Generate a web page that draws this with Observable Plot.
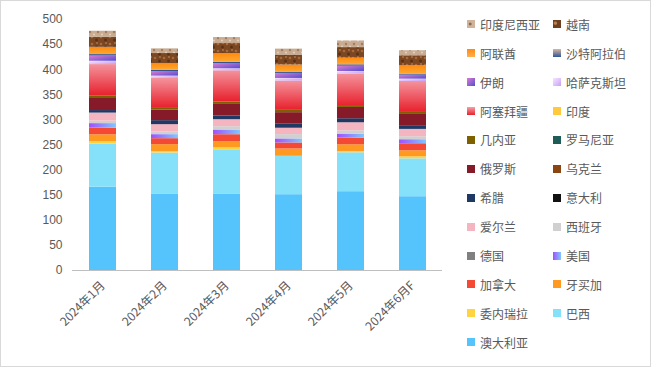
<!DOCTYPE html>
<html>
<head>
<meta charset="utf-8">
<script src="https://cdn.jsdelivr.net/npm/d3@7"></script>
<script src="https://cdn.jsdelivr.net/npm/@observablehq/plot@0.6"></script>
<style>
  html, body { margin: 0; padding: 0; background: #fff; }
  #wrap { position: relative; width: 651px; height: 367px; overflow: hidden; background: #fff; }
  #frame { position: absolute; left: 0; top: 0; width: 649px; height: 365px; border: 1px solid #d9d9d9; pointer-events: none; }
  #chart { position: absolute; left: 0; top: 0; }
  #legend { position: absolute; left: 0; top: 0; width: 651px; height: 367px; font-family: "Noto Sans CJK SC", "Noto Sans", sans-serif; font-size: 12px; color: #595959; }
  .item { position: absolute; display: flex; align-items: center; height: 16px; white-space: nowrap; }
  .sw { width: 8px; height: 8px; margin-right: 5px; flex: none; }
</style>
</head>
<body>
<div id="wrap">
  <div id="chart"></div>
  <div id="legend"></div>
  <div id="frame"></div>
</div>
<script>
// ---- data ----
const months = ["2024年1月", "2024年2月", "2024年3月", "2024年4月", "2024年5月", "2024年6月F"];
const yTicks = [0, 50, 100, 150, 200, 250, 300, 350, 400, 450, 500];

// stack order bottom -> top
const seriesNames = ["澳大利亚", "巴西", "委内瑞拉", "牙买加", "加拿大", "美国", "德国", "西班牙", "爱尔兰", "意大利", "希腊", "乌克兰", "俄罗斯", "罗马尼亚", "几内亚", "印度", "阿塞拜疆", "哈萨克斯坦", "伊朗", "沙特阿拉伯", "阿联酋", "越南", "印度尼西亚"];

const australia  = [166, 152.5, 152.5, 151, 157, 147];
const brazil     = [86, 81.5, 88, 76, 77.5, 75.5];
const venezuela  = [5, 2.6, 4, 0.5, 2.6, 4];
const jamaica    = [13.3, 14, 12, 14.6, 13.3, 12];
const canada     = [13.3, 12, 14, 12, 13.3, 14];
const usa        = [9, 8, 9.3, 8, 8, 8];
const germany    = [0, 0, 0, 0, 0, 0];
const spain      = [5, 5.3, 6.6, 8.6, 6.6, 6];
const ireland    = [16, 14.6, 14, 12.7, 16, 14.6];
const italy      = [0, 0, 0, 0, 0, 0];
const greece     = [5, 8, 7.3, 8, 8, 7.3];
const ukraine    = [0, 0, 0, 0, 0, 0];
const russia     = [24, 21.2, 24.5, 23, 22.5, 23.9];
const romania    = [0, 0, 0, 0, 0, 0];
const guinea     = [4.6, 3.2, 3.3, 4.6, 2, 2.6];
const india      = [0, 0, 0, 0, 0, 0];
const azerbaijan = [63, 59.6, 62.3, 58.3, 64.4, 61.6];
const kazakhstan = [6.6, 4.7, 4, 5.3, 5.2, 4.7];
const iran       = [10.5, 9.2, 10.5, 10, 10.7, 8];
const saudi      = [2.8, 2.7, 2.7, 2, 2.6, 2];
const uae        = [14.5, 13.2, 17.2, 14.6, 13.3, 16.6];
const vietnam    = [20, 19.9, 19.9, 19.9, 21, 19.9];
const indonesia  = [12, 9.3, 11.9, 11.9, 13.3, 10];

const seriesValues = [australia, brazil, venezuela, jamaica, canada, usa, germany, spain, ireland, italy, greece, ukraine, russia, romania, guinea, india, azerbaijan, kazakhstan, iran, saudi, uae, vietnam, indonesia];

// fills (same order as seriesNames)
const fills = ["#55c4fd", "#84e1f9", "#ffd43f", "#ff991f", "#f44a35", "url(#gUSA)", "#808080", "#d0d0d0", "#f5b5c0", "#111111", "#1f3864", "#8b4513", "#871a28", "#1e5d57", "#7f6000", "#ffc83d", "url(#gAze)", "url(#gKaz)", "url(#gIran)", "url(#gSaudi)", "url(#gUAE)", "url(#pVN)", "url(#pID)"];
const cssFills = ["#55c4fd", "#84e1f9", "#ffd43f", "#ff991f", "#f44a35", "linear-gradient(90deg,#a050ff,#7fc8ff)", "#808080", "#d0d0d0", "#f5b5c0", "#111111", "#1f3864", "#8b4513", "#871a28", "#1e5d57", "#7f6000", "#ffc83d", "linear-gradient(180deg,#f7a0a8,#e8202c)", "linear-gradient(135deg,#f4e6ff,#caa0f5)", "linear-gradient(135deg,#e07ad0,#5050d0)", "linear-gradient(180deg,#d8b8a0,#2f5597)", "linear-gradient(180deg,#ff8a10,#ffb050)", "radial-gradient(circle at 30% 40%,#c08050 15%,transparent 30%),#6e4020", "radial-gradient(circle at 40% 50%,#8a6a50 15%,transparent 30%),#cfb49a"];

const data = [];
seriesNames.forEach((s, i) => months.forEach((m, j) => data.push({s, m, v: seriesValues[i][j]})));

const chart = Plot.plot({
  width: 445,
  height: 367,
  marginLeft: 72,
  marginRight: 3,
  marginTop: 19,
  marginBottom: 97,
  style: {fontFamily: "'Liberation Sans', 'Noto Sans CJK SC', sans-serif", fontSize: "12px", color: "#595959", background: "transparent", overflow: "visible"},
  x: {domain: months, paddingInner: 0.567, paddingOuter: 0.25, label: null},
  y: {domain: [0, 500], label: null},
  color: {domain: seriesNames, range: fills},
  marks: [
    Plot.axisY({ticks: yTicks, tickSize: 0, tickPadding: 10, label: null, fontSize: 12}),
    Plot.axisX({tickSize: 0, tickRotate: -45, tickPadding: 13, label: null, fontSize: 12, fontFamily: "'Noto Sans CJK SC', sans-serif"}),
    Plot.barY(data, Plot.stackY({x: "m", y: "v", fill: "s", order: null})),
    Plot.ruleY([0], {stroke: "#bfbfbf", strokeWidth: 1})
  ]
});

// gradient / pattern defs
const ns = "http://www.w3.org/2000/svg";
const defs = document.createElementNS(ns, "defs");
defs.innerHTML = `
  <linearGradient id="gUSA" x1="0" y1="0" x2="1" y2="0"><stop offset="0" stop-color="#a050ff"/><stop offset="1" stop-color="#7fc8ff"/></linearGradient>
  <linearGradient id="gAze" x1="0" y1="0" x2="0" y2="1"><stop offset="0" stop-color="#f4939c"/><stop offset="1" stop-color="#e8202c"/></linearGradient>
  <linearGradient id="gKaz" x1="0" y1="0" x2="1" y2="1"><stop offset="0" stop-color="#f4e6ff"/><stop offset="1" stop-color="#c89cf2"/></linearGradient>
  <linearGradient id="gIran" x1="0" y1="0" x2="1" y2="1"><stop offset="0" stop-color="#e07ad0"/><stop offset="1" stop-color="#5050d0"/></linearGradient>
  <linearGradient id="gSaudi" x1="0" y1="0" x2="0" y2="1"><stop offset="0" stop-color="#3a5a9a"/><stop offset="1" stop-color="#2f4f8f"/></linearGradient>
  <linearGradient id="gUAE" x1="0" y1="0" x2="0" y2="1"><stop offset="0" stop-color="#ff8a10"/><stop offset="1" stop-color="#ffa830"/></linearGradient>
  <pattern id="pVN" patternUnits="userSpaceOnUse" width="9" height="7">
    <rect width="9" height="7" fill="#7a4722"/>
    <circle cx="2" cy="2" r="1.3" fill="#a86a3a"/><circle cx="6.5" cy="5" r="1.5" fill="#5a3015"/><circle cx="7" cy="1" r="0.9" fill="#b07848"/>
  </pattern>
  <pattern id="pID" patternUnits="userSpaceOnUse" width="8" height="6">
    <rect width="8" height="6" fill="#c8ab90"/>
    <circle cx="2" cy="2" r="1.2" fill="#a07e62"/><circle cx="6" cy="4.5" r="1.1" fill="#e2cfbd"/>
  </pattern>`;
chart.insertBefore(defs, chart.firstChild);
document.getElementById("chart").appendChild(chart);

// legend (reverse of stack order, filled row by row in two columns)
const legend = document.getElementById("legend");
const order = seriesNames.map((s, i) => i).reverse();
order.forEach((idx, k) => {
  const row = Math.floor(k / 2), col = k % 2;
  const item = document.createElement("div");
  item.className = "item";
  item.style.left = (col === 0 ? 467 : 553) + "px";
  item.style.top = (24.3 + row * 28.9 - 8) + "px";
  const sw = document.createElement("div");
  sw.className = "sw";
  sw.style.background = cssFills[idx];
  const tx = document.createElement("span");
  tx.textContent = seriesNames[idx];
  item.appendChild(sw);
  item.appendChild(tx);
  legend.appendChild(item);
});
</script>
</body>
</html>
